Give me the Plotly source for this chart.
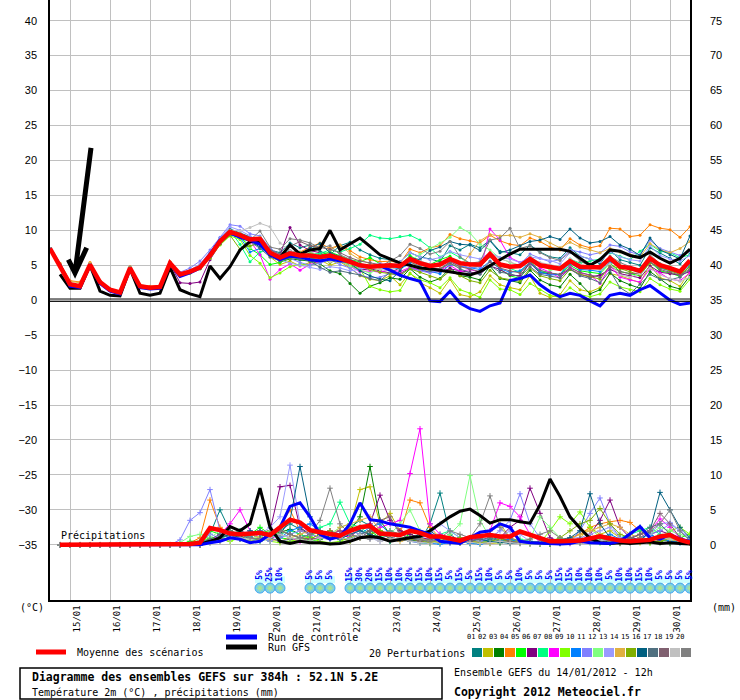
import plotly.graph_objects as go

# time axis: GEFS run 14/01/2012 12h, one point every 6h up to 384h
HOURS = list(range(0, 385, 6))
DAY_LABELS = ["15/01", "16/01", "17/01", "18/01", "19/01", "20/01", "21/01", "22/01",
              "23/01", "24/01", "25/01", "26/01", "27/01", "28/01", "29/01", "30/01"]
DAY_HOURS = [12 + 24 * i for i in range(len(DAY_LABELS))]

PERT_COLORS = ["#008080", "#c0c000", "#008000", "#ff8000", "#00ff00", "#800080", "#00ff80",
               "#ff00ff", "#80ff00", "#0080ff", "#8080ff", "#80ff80", "#9a9aff", "#e0b040",
               "#80b000", "#006080", "#507080", "#806070", "#c0c0c0", "#808080"]

# 2m temperature (degC), 0h..384h
MEAN_TEMP = [7.4, 5.0, 2.3, 2.0, 5.1, 2.6, 1.5, 1.1, 4.6, 2.0, 1.8, 1.9, 5.3, 3.7, 4.1, 4.7,
             6.4, 8.4, 9.8, 9.3, 8.7, 8.8, 6.8, 6.1, 6.7, 6.4, 6.4, 6.2, 6.4, 6.0, 5.5, 5.0,
             4.8, 4.9, 5.0, 4.9, 5.9, 5.3, 4.9, 5.1, 5.9, 5.3, 5.1, 5.1, 6.6, 5.1, 4.8, 4.9, 5.9,
             5.0, 4.8, 4.5, 5.6, 4.8, 4.7, 4.7, 6.0, 4.8, 4.6, 4.2, 6.0, 5.0, 4.6, 4.1, 5.7]
CTRL_TEMP = [7.4, 5.0, 2.0, 1.8, 5.0, 2.4, 1.3, 0.9, 4.5, 1.8, 1.6, 1.7, 5.2, 3.4, 3.9, 4.6,
             6.6, 8.6, 9.6, 9.0, 8.6, 8.0, 6.5, 5.8, 6.3, 6.2, 5.8, 5.6, 5.9, 5.6, 5.6, 5.0,
             4.8, 4.9, 4.3, 3.6, 3.1, 2.7, -0.1, -0.2, 1.3, -0.4, -1.2, -1.6, -0.8, -0.4, 2.8, 3.1,
             3.6, 2.2, 1.2, 0.5, 1.0, 0.7, -0.1, -0.8, 0.7, 1.0, 0.7, 1.5, 2.1, 1.0, 0.0, -0.6, -0.4]
# GFS run starts at 6h
GFS_TEMP = [3.7, 1.7, 1.7, 5.0, 1.3, 0.7, 0.6, 4.5, 1.0, 0.7, 1.0, 4.7, 1.5, 0.9, 0.5,
            4.9, 3.1, 4.8, 7.2, 8.4, 8.4, 6.5, 6.1, 7.9, 6.6, 7.2, 7.4, 10.0, 7.2, 8.1, 8.9,
            7.7, 6.5, 5.9, 5.3, 5.0, 4.6, 4.5, 4.3, 4.1, 3.8, 3.6, 4.1, 5.0, 5.8, 6.6, 7.3, 7.3,
            7.3, 7.3, 7.3, 7.0, 6.0, 5.0, 5.8, 7.2, 7.0, 6.4, 6.1, 6.9, 6.0, 5.3, 6.0, 7.3]

T_P01 = [7.4, 5.1, 2.4, 2.1, 5.2, 2.7, 1.6, 1.2, 4.7, 2.1, 1.9, 2.0, 5.4, 3.6, 4.0, 4.8,
         6.8, 8.9, 10.2, 9.6, 9.0, 8.5, 7.2, 6.8, 8.2, 7.5, 7.9, 7.0, 6.5, 7.8, 8.3, 7.2,
         6.5, 6.0, 5.8, 5.5, 6.8, 6.2, 5.9, 5.5, 7.8, 7.2, 8.0, 7.5, 8.6, 7.0, 6.8, 6.5, 7.9,
         6.9, 6.2, 6.0, 7.5, 6.3, 5.9, 5.2, 7.2, 5.8, 5.4, 5.0, 7.5, 6.8, 6.0, 5.2, 6.6]
T_P02 = [7.4, 4.9, 2.2, 1.9, 5.0, 2.5, 1.4, 1.0, 4.5, 1.9, 1.7, 1.8, 5.2, 3.8, 4.2, 4.6,
         6.0, 8.0, 9.4, 9.5, 8.6, 8.2, 6.2, 5.1, 5.6, 4.9, 5.4, 5.8, 5.0, 5.5, 4.6, 3.5,
         3.0, 2.8, 3.5, 2.2, 3.9, 2.5, 1.8, 1.0, 3.0, 0.8, 0.5, 1.2, 3.5, 2.2, 1.8, 1.5, 3.5,
         1.0, 0.4, 0.8, 2.8, 1.5, 1.2, 1.8, 3.8, 3.5, 3.0, 2.5, 5.0, 3.2, 2.8, 2.0, 4.2]
T_P03 = [7.4, 5.0, 2.3, 2.1, 5.2, 2.5, 1.4, 1.1, 4.7, 2.0, 1.7, 1.9, 5.4, 3.5, 3.9, 4.5,
         6.2, 8.1, 9.5, 9.1, 8.4, 8.0, 6.6, 5.5, 5.9, 5.8, 5.6, 5.2, 4.2, 3.8, 2.4, 1.0,
         2.0, 2.5, 3.2, 3.0, 4.5, 3.3, 2.6, 3.1, 4.6, 3.5, 3.3, 2.9, 4.9, 3.1, 2.8, 2.5, 4.3,
         2.9, 2.2, 1.9, 3.7, 2.4, 0.9, 1.5, 3.9, 2.8, 2.2, 1.7, 4.1, 3.0, 2.0, 1.6, 3.5]
T_P04 = [7.4, 5.3, 2.8, 2.6, 5.4, 2.8, 1.6, 1.3, 4.8, 2.2, 2.0, 2.1, 5.5, 3.9, 4.3, 5.0,
         6.6, 8.5, 9.9, 9.4, 8.8, 8.9, 7.0, 6.4, 7.0, 6.9, 7.6, 8.2, 7.4, 7.9, 7.1, 6.2,
         5.8, 5.5, 5.6, 5.3, 7.3, 6.8, 7.5, 7.8, 9.4, 8.8, 8.5, 8.2, 9.3, 8.5, 8.0, 7.8, 8.9,
         8.4, 7.6, 7.2, 8.8, 7.9, 7.5, 7.8, 10.3, 10.2, 9.1, 9.3, 10.8, 10.3, 10.1, 9.0, 10.5]
T_P05 = [7.4, 5.0, 2.4, 2.0, 5.1, 2.7, 1.6, 1.2, 4.6, 2.1, 1.9, 1.9, 5.3, 3.8, 4.2, 4.7,
         6.3, 8.2, 9.6, 9.2, 7.4, 6.5, 5.1, 5.4, 6.1, 6.0, 6.8, 6.5, 6.9, 6.4, 5.8, 5.5,
         6.1, 5.2, 4.8, 5.0, 6.4, 5.5, 5.1, 5.8, 6.3, 4.9, 4.6, 4.9, 6.5, 4.4, 3.5, 3.1, 5.6,
         4.0, 3.9, 3.6, 5.0, 4.2, 4.0, 3.8, 5.3, 4.1, 3.8, 3.5, 5.5, 4.2, 3.9, 3.4, 4.9]
T_P06 = [7.4, 5.0, 2.2, 1.9, 5.0, 2.5, 1.4, 1.0, 4.5, 1.9, 1.7, 1.8, 5.2, 2.5, 2.4, 2.6,
         5.8, 8.0, 9.3, 9.4, 8.3, 8.7, 7.3, 6.5, 10.4, 7.9, 7.1, 6.8, 5.9, 6.2, 5.0, 4.3,
         4.5, 4.2, 3.9, 3.8, 4.6, 4.3, 4.0, 4.1, 4.5, 4.2, 4.0, 3.8, 4.9, 4.4, 3.6, 3.5, 5.3,
         3.9, 3.8, 3.6, 4.4, 3.7, 3.3, 3.6, 4.4, 3.8, 3.5, 3.2, 4.9, 4.0, 3.8, 3.6, 4.1]
T_P07 = [7.4, 5.1, 2.3, 2.0, 5.1, 2.6, 1.5, 1.1, 4.6, 2.0, 1.8, 1.9, 5.4, 3.7, 4.2, 4.8,
         6.5, 8.6, 10.0, 8.0, 5.5, 6.9, 7.3, 6.2, 6.4, 6.8, 6.5, 6.7, 7.2, 6.9, 7.4, 8.0,
         9.3, 8.9, 8.8, 9.1, 9.3, 8.6, 7.5, 6.2, 6.9, 6.1, 5.2, 4.8, 6.2, 5.1, 4.6, 4.0, 5.5,
         4.2, 3.9, 3.6, 5.9, 5.3, 5.6, 5.9, 6.8, 6.3, 5.8, 7.0, 8.0, 7.0, 6.8, 6.1, 6.5]
T_P08 = [7.4, 5.0, 2.3, 2.0, 5.1, 2.6, 1.5, 1.1, 4.6, 2.0, 1.8, 1.9, 5.3, 3.6, 4.0, 4.6,
         6.3, 8.4, 9.7, 9.2, 8.5, 6.5, 3.0, 4.4, 5.2, 4.3, 5.1, 5.5, 5.9, 5.6, 4.8, 4.1,
         4.2, 4.0, 4.4, 4.1, 4.7, 4.3, 4.5, 4.3, 5.0, 4.1, 4.4, 4.0, 10.2, 8.6, 6.1, 5.4, 6.0,
         4.6, 4.0, 3.2, 4.8, 3.9, 3.6, 2.4, 4.9, 3.3, 2.9, 2.6, 4.5, 3.9, 3.0, 2.8, 3.9]
T_P09 = [7.4, 4.9, 2.2, 1.9, 5.0, 2.5, 1.4, 1.0, 4.5, 1.9, 1.7, 1.8, 5.2, 3.5, 3.9, 4.5,
         6.0, 7.9, 9.2, 8.7, 6.4, 5.3, 3.2, 3.9, 4.8, 5.2, 5.0, 5.4, 6.5, 5.6, 5.1, 4.5,
         2.0, 1.5, 1.2, 1.4, 3.8, 2.9, 2.5, 1.8, 3.2, 1.5, 1.0, 0.4, 2.9, 1.6, 1.5, 0.8, 2.4,
         1.5, 0.7, 0.4, 1.8, 0.8, 0.5, 0.9, 2.6, 1.9, 1.5, 1.2, 3.1, 2.2, 1.6, 1.3, 3.0]
T_P10 = [7.4, 5.0, 2.3, 2.0, 5.1, 2.6, 1.5, 1.1, 4.6, 2.0, 1.8, 1.9, 5.3, 3.7, 4.1, 4.6,
         6.4, 8.3, 9.6, 9.0, 6.9, 7.4, 6.8, 5.8, 6.3, 5.9, 6.0, 5.8, 6.3, 5.7, 5.2, 4.7,
         4.9, 5.0, 4.7, 4.5, 5.2, 4.4, 4.1, 3.8, 5.1, 4.9, 4.6, 4.4, 5.6, 4.5, 4.0, 4.2, 5.4,
         4.0, 3.6, 3.7, 5.3, 4.4, 4.3, 4.1, 5.5, 4.8, 4.4, 4.0, 5.4, 4.6, 4.2, 3.9, 5.0]
T_P11 = [7.4, 5.1, 2.4, 2.1, 5.2, 2.7, 1.6, 1.2, 4.7, 2.1, 1.9, 2.0, 5.4, 4.0, 4.6, 5.6,
         7.2, 9.0, 10.8, 10.6, 9.5, 9.2, 7.5, 6.4, 6.0, 5.4, 5.0, 5.3, 5.8, 5.1, 4.6, 3.6,
         3.2, 3.3, 3.8, 3.5, 4.6, 4.2, 3.9, 4.3, 5.5, 5.0, 4.6, 4.8, 6.4, 5.2, 4.9, 5.1, 6.6,
         6.0, 5.5, 5.8, 7.2, 6.9, 6.5, 6.8, 7.9, 7.7, 6.9, 6.5, 8.6, 7.4, 6.9, 6.4, 7.0]
T_P12 = [7.4, 5.0, 2.3, 2.0, 5.1, 2.6, 1.5, 1.1, 4.6, 2.0, 1.8, 1.9, 5.3, 3.8, 4.2, 4.9,
         6.6, 8.5, 9.8, 9.4, 7.5, 9.0, 6.3, 5.9, 6.6, 6.4, 6.5, 6.1, 6.9, 5.6, 4.9, 4.3,
         3.9, 4.5, 5.2, 4.9, 5.7, 6.6, 7.4, 8.2, 9.0, 10.4, 9.6, 8.0, 7.2, 6.0, 5.4, 5.0, 6.3,
         5.2, 4.3, 4.5, 5.8, 4.9, 4.6, 4.4, 6.1, 5.0, 4.7, 4.3, 5.9, 5.2, 4.8, 4.0, 5.6]
T_P13 = [7.4, 5.0, 2.3, 2.0, 5.1, 2.6, 1.5, 1.1, 4.6, 2.0, 1.8, 1.9, 5.3, 3.8, 4.3, 5.2,
         6.9, 8.8, 10.5, 10.0, 9.2, 8.4, 6.9, 5.8, 5.3, 5.0, 4.7, 4.4, 4.8, 4.6, 4.2, 4.5,
         4.7, 5.3, 4.9, 5.5, 6.8, 6.2, 5.8, 6.1, 7.0, 6.5, 6.2, 5.9, 6.8, 6.1, 5.9, 5.4, 6.2,
         6.0, 5.7, 5.2, 6.8, 6.3, 5.9, 5.5, 6.9, 6.2, 5.8, 5.6, 7.8, 6.4, 5.9, 5.6, 6.4]
T_P14 = [7.4, 5.2, 2.7, 2.5, 5.3, 2.7, 1.6, 1.2, 4.7, 2.1, 1.9, 2.0, 5.4, 3.7, 4.1, 4.7,
         6.5, 8.4, 9.7, 9.2, 8.6, 8.3, 6.4, 5.9, 6.4, 6.6, 7.2, 7.8, 7.2, 7.9, 6.7, 5.8,
         5.2, 5.0, 4.6, 4.8, 5.6, 4.5, 4.2, 4.5, 5.2, 4.8, 6.6, 8.5, 9.4, 9.2, 9.3, 9.0, 9.5,
         9.0, 8.2, 7.5, 8.3, 7.6, 7.2, 6.8, 7.4, 6.9, 6.5, 6.2, 8.1, 7.2, 6.8, 7.4, 8.4]
T_P15 = [7.4, 5.0, 2.3, 2.0, 5.1, 2.6, 1.5, 1.1, 4.6, 2.0, 1.8, 1.9, 5.3, 3.6, 4.0, 4.5,
         6.1, 8.0, 9.3, 7.3, 7.8, 8.1, 6.5, 5.7, 6.0, 6.3, 5.9, 6.1, 5.4, 5.8, 5.2, 4.9,
         4.4, 4.0, 3.8, 3.6, 4.5, 4.0, 3.4, 3.0, 4.2, 3.5, 2.8, 2.5, 4.3, 3.2, 2.9, 2.7, 4.6,
         3.5, 3.1, 2.8, 4.4, 3.7, 3.4, 3.0, 5.0, 4.5, 4.1, 3.6, 5.4, 4.7, 4.2, 3.7, 4.8]
T_P16 = [7.4, 5.0, 2.3, 2.0, 5.1, 2.6, 1.5, 1.1, 4.6, 2.0, 1.8, 1.9, 5.3, 3.7, 4.1, 4.6,
         6.3, 8.3, 9.6, 9.0, 8.5, 7.6, 6.9, 6.3, 7.1, 6.6, 7.5, 8.1, 6.8, 6.2, 5.3, 4.2,
         3.5, 3.0, 2.8, 4.2, 6.1, 5.8, 7.1, 7.6, 8.4, 8.0, 7.9, 7.1, 8.5, 6.8, 7.2, 7.8, 8.4,
         8.6, 9.1, 8.7, 10.2, 8.9, 8.2, 8.4, 9.1, 7.9, 7.3, 6.4, 8.9, 7.2, 6.5, 5.9, 9.2]
T_P17 = [7.4, 5.0, 2.3, 2.0, 5.1, 2.6, 1.5, 1.1, 4.6, 2.0, 1.8, 1.9, 5.3, 3.6, 4.0, 4.6,
         6.2, 8.1, 9.5, 9.0, 8.4, 7.4, 6.2, 5.6, 6.1, 5.9, 5.6, 4.7, 4.0, 4.2, 3.9, 3.6,
         3.1, 2.8, 4.0, 4.6, 5.5, 4.8, 4.2, 4.4, 5.3, 4.5, 3.9, 3.7, 5.0, 4.0, 3.8, 3.3, 4.8,
         3.7, 3.4, 3.2, 4.5, 3.5, 3.1, 2.5, 4.2, 1.8, 0.9, 2.3, 3.7, 3.0, 2.9, 3.3, 4.4]
T_P18 = [7.4, 5.0, 2.3, 2.0, 5.1, 2.6, 1.5, 1.1, 4.6, 2.0, 1.8, 1.9, 5.3, 3.8, 4.2, 4.8,
         6.6, 8.6, 9.9, 9.5, 8.9, 8.6, 7.2, 6.6, 7.7, 8.4, 7.8, 7.5, 7.3, 6.8, 6.1, 5.6,
         5.4, 5.1, 4.8, 4.6, 5.8, 5.2, 4.6, 4.5, 5.5, 4.8, 4.4, 4.1, 5.5, 4.6, 4.2, 3.9, 5.4,
         4.3, 3.9, 3.7, 4.6, 4.0, 3.6, 3.3, 4.8, 4.1, 3.8, 3.9, 5.5, 4.4, 4.0, 3.6, 4.5]
T_P19 = [7.4, 5.0, 2.3, 2.0, 5.1, 2.6, 1.5, 1.1, 4.6, 2.0, 1.8, 1.9, 5.3, 3.7, 4.1, 4.7,
         6.4, 8.4, 10.0, 9.9, 10.4, 11.0, 10.5, 8.2, 7.1, 6.6, 7.0, 6.2, 5.5, 5.9, 5.2, 4.8,
         4.6, 4.4, 4.2, 5.1, 6.0, 5.6, 5.2, 5.0, 5.8, 5.4, 5.0, 5.3, 6.8, 5.9, 5.5, 4.9, 6.0,
         5.4, 5.1, 4.8, 5.9, 5.1, 4.8, 4.4, 5.2, 3.6, 3.3, 3.8, 4.6, 3.6, 3.1, 2.7, 3.3]
T_P20 = [7.4, 5.0, 2.3, 2.0, 5.1, 2.6, 1.5, 1.1, 4.6, 2.0, 1.8, 1.9, 5.3, 3.7, 4.1, 4.6,
         6.3, 8.4, 9.7, 9.2, 8.6, 9.9, 7.6, 7.3, 8.8, 8.6, 8.2, 7.5, 7.8, 6.5, 5.8, 5.2,
         5.0, 4.8, 5.6, 6.4, 8.0, 7.4, 6.6, 7.0, 8.4, 6.2, 5.3, 5.5, 8.6, 8.9, 10.3, 7.4, 7.8,
         6.8, 6.1, 5.7, 6.9, 5.6, 4.9, 4.6, 6.3, 5.4, 4.8, 4.4, 6.5, 5.2, 4.6, 4.1, 5.3]

# 6h precipitation (mm), 6h..384h
MEAN_RAIN = [0, 0, 0, 0, 0, 0, 0, 0, 0, 0, 0, 0, 0, 0.1,
             0.3, 2.4, 2.1, 1.6, 1.5, 1.6, 1.7, 1.4, 2.6, 3.6, 3.2, 2.1, 1.8, 1.5, 1.3, 2.0, 2.5,
             2.7, 1.6, 1.5, 1.4, 2.0, 1.7, 1.2, 1.2, 0.9, 0.6, 1.1, 1.2, 1.4, 1.2, 1.2, 1.9, 1.4,
             0.9, 0.5, 0.5, 0.5, 0.6, 0.9, 1.2, 0.9, 0.6, 0.5, 0.6, 0.7, 1.2, 1.4, 0.7, 0.3]
CTRL_RAIN = [0, 0, 0, 0, 0, 0, 0, 0, 0, 0, 0, 0, 0, 0,
             0.0, 0.3, 0.5, 1.0, 0.8, 0.3, 0.5, 1.5, 2.5, 5.5, 6.0, 4.0, 1.5, 0.8, 1.2, 3.0, 6.0,
             3.6, 3.4, 3.0, 2.8, 2.5, 2.0, 1.5, 0.5, 0.3, 0.2, 1.0, 1.8, 2.0, 3.0, 2.5, 0.5, 0.3,
             0.2, 0.1, 0.1, 0.2, 0.5, 0.3, 0.2, 0.2, 0.5, 1.5, 2.6, 1.0, 0.8, 1.5, 0.8, 0.5]
GFS_RAIN = [0, 0, 0, 0, 0, 0, 0, 0, 0, 0, 0, 0, 0, 0,
            0.1, 0.5, 1.0, 2.6, 2.0, 3.0, 8.1, 2.5, 0.5, 0.2, 0.5, 0.3, 0.3, 0.1, 0.2, 0.5, 1.0,
            1.2, 1.0, 0.5, 0.8, 1.0, 1.2, 2.0, 3.0, 4.0, 4.8, 5.1, 4.2, 3.1, 3.6, 3.6, 3.3, 3.1,
            5.7, 9.4, 6.9, 4.0, 2.4, 0.9, 0.3, 0.2, 0.3, 0.2, 0.3, 0.4, 0.2, 0.3, 0.2, 0.1]

R_P01 = [0, 0, 0, 0, 0, 0, 0, 0, 0, 0, 0, 0, 0, 0.1,
         0.3, 1.5, 5.0, 2.0, 1.2, 1.0, 0.8, 1.5, 2.0, 3.0, 2.2, 1.5, 1.0, 0.8, 1.2, 2.5, 3.5,
         2.8, 2.0, 1.5, 1.0, 0.8, 0.5, 3.0, 7.4, 1.5, 0.5, 0.3, 0.5, 0.8, 1.0, 0.5, 0.3, 0.2,
         0.3, 0.5, 0.8, 1.0, 0.5, 0.8, 0.5, 0.3, 0.5, 1.5, 2.5, 1.5, 0.8, 0.5, 0.3, 0.5]
R_P02 = [0, 0, 0, 0, 0, 0, 0, 0, 0, 0, 0, 0, 0, 0.2,
         0.0, 0.5, 1.0, 0.8, 1.5, 1.2, 1.8, 2.0, 1.5, 1.0, 0.8, 1.2, 2.0, 1.5, 1.0, 2.5, 7.9,
         8.3, 3.0, 4.5, 2.0, 1.5, 1.0, 0.5, 0.8, 0.5, 0.3, 0.5, 1.0, 2.0, 3.0, 1.0, 0.5, 0.3,
         0.2, 0.1, 0.3, 0.5, 1.0, 2.5, 1.5, 2.0, 1.0, 0.5, 0.3, 0.5, 1.0, 0.8, 0.5, 0.3]
R_P03 = [0, 0, 0, 0, 0, 0, 0, 0, 0, 0, 0, 0, 0, 0.1,
         0.0, 0.8, 1.2, 2.0, 1.5, 1.0, 0.5, 1.0, 1.8, 2.2, 1.5, 1.0, 0.8, 1.2, 1.5, 2.0, 4.0,
         11.2, 3.5, 1.5, 1.0, 0.5, 0.8, 0.3, 0.5, 1.0, 0.5, 0.3, 0.2, 0.3, 0.5, 0.8, 0.3, 0.2,
         0.1, 0.1, 0.2, 0.5, 0.3, 0.5, 0.8, 0.3, 0.2, 0.5, 0.8, 0.5, 0.3, 0.2, 0.5, 0.3]
R_P04 = [0, 0, 0, 0, 0, 0, 0, 0, 0, 0, 0, 0, 0, 0.3,
         1.0, 6.4, 2.5, 1.5, 1.0, 2.0, 1.5, 1.0, 2.5, 5.0, 2.0, 1.5, 1.0, 0.8, 1.0, 1.5, 2.0,
         1.5, 1.0, 0.8, 1.5, 6.4, 6.0, 2.5, 1.0, 0.5, 0.8, 0.3, 0.5, 0.3, 0.5, 0.8, 0.5, 0.3,
         0.5, 0.3, 0.5, 1.0, 1.5, 2.5, 3.0, 3.3, 3.5, 3.2, 2.0, 1.0, 0.5, 0.8, 0.5, 0.3]
R_P05 = [0, 0, 0, 0, 0, 0, 0, 0, 0, 0, 0, 0, 0.1, 0.5,
         0.5, 2.0, 1.5, 1.0, 0.8, 1.5, 2.5, 1.5, 1.0, 0.8, 1.0, 0.5, 0.8, 1.5, 1.0, 0.8, 1.5,
         2.0, 1.0, 0.5, 0.8, 1.5, 1.0, 0.5, 0.3, 0.8, 0.5, 0.2, 0.3, 0.5, 1.0, 0.5, 0.3, 0.2,
         0.1, 0.2, 0.3, 0.5, 0.8, 0.5, 0.3, 0.2, 0.5, 0.8, 0.5, 0.3, 0.5, 0.8, 1.0, 1.5]
R_P06 = [0, 0, 0, 0, 0, 0, 0, 0, 0, 0, 0, 0, 0, 0,
         0.0, 0.5, 1.0, 1.5, 2.0, 1.5, 1.0, 2.0, 8.3, 8.5, 2.5, 1.5, 1.0, 2.0, 1.5, 1.0, 2.5,
         3.0, 7.1, 3.5, 2.0, 1.5, 1.0, 0.8, 0.5, 0.3, 0.5, 0.8, 1.0, 1.5, 1.0, 2.5, 3.5, 8.1,
         4.5, 1.0, 0.5, 0.3, 0.5, 1.5, 3.5, 6.4, 2.5, 1.0, 0.8, 1.5, 2.0, 1.5, 0.8, 0.3]
R_P07 = [0, 0, 0, 0, 0, 0, 0, 0, 0, 0, 0, 0, 0, 0.2,
         0.3, 1.0, 0.8, 1.5, 2.0, 1.0, 0.5, 1.0, 1.5, 2.0, 1.5, 1.0, 2.5, 3.0, 6.1, 3.0, 2.5,
         1.5, 1.0, 2.0, 1.5, 1.0, 0.8, 0.5, 1.5, 2.0, 1.0, 0.5, 0.3, 0.5, 0.3, 0.5, 0.8, 0.5,
         0.3, 0.5, 0.3, 0.2, 0.5, 0.3, 0.5, 0.8, 1.0, 1.5, 2.0, 2.5, 1.5, 1.0, 0.8, 0.5]
R_P08 = [0, 0, 0, 0, 0, 0, 0, 0, 0, 0, 0, 0, 0, 0,
         0.0, 0.5, 1.5, 3.0, 5.0, 2.0, 1.0, 0.8, 1.5, 1.0, 0.5, 0.8, 1.0, 1.5, 2.0, 1.0, 1.5,
         2.0, 2.5, 3.0, 3.5, 10.2, 16.6, 3.0, 1.5, 1.0, 0.8, 0.5, 1.0, 2.0, 6.0, 5.5, 4.0, 1.5,
         0.5, 0.3, 0.5, 0.2, 0.3, 0.5, 0.8, 0.5, 0.3, 0.5, 1.0, 2.0, 3.7, 2.5, 1.0, 0.5]
R_P09 = [0, 0, 0, 0, 0, 0, 0, 0, 0, 0, 0, 0, 0, 0.3,
         0.5, 1.0, 0.8, 0.5, 1.0, 1.5, 1.0, 0.5, 0.3, 0.5, 0.8, 1.0, 0.5, 0.3, 0.5, 1.0, 1.5,
         2.0, 1.5, 1.0, 0.8, 0.5, 0.3, 0.2, 0.5, 1.0, 0.8, 0.5, 0.3, 0.2, 0.3, 0.5, 0.2, 0.1,
         0.3, 2.0, 4.0, 3.0, 4.7, 2.5, 1.0, 0.5, 0.3, 0.5, 0.8, 0.5, 1.0, 2.0, 2.5, 1.5]
R_P10 = [0, 0, 0, 0, 0, 0, 0, 0, 0, 0, 0, 0, 0, 0,
         0.0, 0.3, 0.5, 1.0, 1.5, 1.0, 2.0, 1.5, 1.0, 2.0, 2.5, 3.0, 2.0, 1.5, 1.0, 0.8, 1.5,
         2.5, 3.0, 1.5, 1.0, 0.5, 0.3, 0.2, 0.1, 0.3, 0.5, 0.2, 0.1, 0.3, 0.5, 0.8, 0.3, 0.2,
         0.1, 0.2, 0.3, 0.5, 0.3, 0.5, 1.0, 1.5, 0.8, 0.5, 1.0, 1.5, 0.8, 0.5, 0.3, 0.5]
R_P11 = [0, 0, 0, 0, 0, 0, 0, 0, 0, 0, 0, 0, 0.7, 3.5,
         4.6, 7.9, 2.0, 1.0, 0.8, 1.5, 1.0, 0.5, 1.0, 1.5, 2.0, 1.5, 1.0, 0.8, 1.5, 2.0, 1.5,
         1.0, 0.8, 1.5, 1.0, 0.5, 0.3, 0.5, 1.0, 0.8, 0.5, 0.3, 0.5, 1.0, 2.0, 3.5, 7.3, 3.0,
         1.0, 0.5, 0.3, 0.5, 2.0, 4.5, 6.7, 3.0, 1.0, 0.5, 0.8, 1.5, 2.0, 3.0, 2.0, 0.8]
R_P12 = [0, 0, 0, 0, 0, 0, 0, 0, 0, 0, 0, 0, 0.3, 1.2,
         1.5, 1.0, 2.0, 1.5, 1.0, 0.8, 1.2, 2.0, 1.5, 1.0, 0.8, 1.5, 2.0, 1.5, 2.5, 3.0, 2.0,
         1.5, 1.0, 1.5, 3.0, 5.0, 2.0, 1.0, 0.5, 1.5, 3.0, 9.9, 3.5, 1.0, 0.5, 0.3, 0.5, 0.8,
         4.0, 2.5, 1.0, 0.5, 0.3, 0.5, 0.8, 1.0, 0.5, 0.3, 0.8, 1.5, 2.5, 2.0, 1.5, 1.0]
R_P13 = [0, 0, 0, 0, 0, 0, 0, 0, 0, 0, 0, 0, 0, 0.2,
         0.5, 1.5, 1.0, 0.8, 1.5, 2.0, 1.5, 2.5, 4.0, 11.4, 3.0, 1.5, 1.0, 0.8, 1.0, 1.5, 2.0,
         1.0, 0.5, 0.8, 1.5, 1.0, 0.8, 1.5, 3.0, 2.0, 1.0, 0.5, 0.3, 0.5, 1.0, 2.0, 1.5, 0.5,
         0.3, 0.2, 0.5, 1.0, 1.0, 1.5, 2.0, 2.5, 1.0, 0.5, 0.8, 1.5, 3.0, 3.2, 2.0, 1.0]
R_P14 = [0, 0, 0, 0, 0, 0, 0, 0, 0, 0, 0, 0, 0, 0,
         0.0, 0.3, 0.5, 0.8, 1.0, 1.5, 1.0, 0.8, 0.5, 1.0, 1.5, 2.0, 1.5, 1.0, 2.5, 3.0, 3.5,
         4.0, 2.0, 1.0, 0.5, 0.8, 1.0, 0.5, 0.3, 0.5, 0.8, 0.5, 0.3, 0.2, 0.3, 0.5, 0.3, 0.2,
         0.1, 0.3, 0.5, 0.8, 1.5, 2.0, 2.5, 3.0, 2.5, 1.5, 1.0, 0.5, 0.8, 1.0, 0.5, 0.3]
R_P15 = [0, 0, 0, 0, 0, 0, 0, 0, 0, 0, 0, 0, 0, 0.1,
         0.0, 0.5, 1.0, 1.5, 1.0, 0.5, 0.8, 1.5, 2.0, 1.5, 1.0, 0.8, 1.5, 2.0, 1.0, 0.5, 1.0,
         1.5, 2.0, 1.5, 1.0, 0.8, 0.5, 0.3, 0.5, 0.8, 1.0, 0.5, 0.3, 0.5, 0.8, 0.5, 0.3, 0.2,
         0.3, 0.5, 1.0, 2.0, 3.0, 3.5, 5.2, 3.0, 1.5, 1.0, 0.5, 0.3, 0.5, 0.8, 0.5, 0.3]
R_P16 = [0, 0, 0, 0, 0, 0, 0, 0, 0, 0, 0, 0, 0, 0,
         0.0, 0.5, 1.0, 1.5, 1.0, 2.0, 1.5, 1.0, 1.5, 3.5, 11.2, 4.0, 1.5, 1.0, 0.8, 1.5, 2.0,
         1.5, 1.0, 0.5, 0.8, 1.0, 1.5, 2.0, 1.0, 0.5, 0.3, 0.5, 0.8, 0.5, 0.3, 0.2, 0.3, 0.5,
         0.3, 0.2, 0.5, 1.0, 2.0, 7.3, 3.0, 1.0, 0.5, 0.3, 0.5, 2.0, 7.5, 5.0, 2.5, 1.0]
R_P17 = [0, 0, 0, 0, 0, 0, 0, 0, 0, 0, 0, 0, 0, 0.2,
         0.3, 0.8, 1.5, 1.0, 0.8, 1.5, 2.0, 1.0, 0.5, 0.8, 1.0, 1.5, 2.0, 1.5, 1.0, 0.8, 1.5,
         2.0, 1.5, 1.0, 0.8, 0.5, 1.0, 1.5, 1.0, 0.5, 0.3, 0.5, 0.8, 1.0, 0.5, 0.3, 0.2, 0.3,
         0.5, 0.3, 0.2, 0.5, 0.8, 1.0, 0.5, 0.3, 0.5, 0.8, 1.5, 2.5, 3.0, 1.5, 0.8, 0.5]
R_P18 = [0, 0, 0, 0, 0, 0, 0, 0, 0, 0, 0, 0, 0, 0,
         0.0, 0.5, 0.8, 1.0, 1.5, 1.0, 0.8, 1.5, 2.0, 1.5, 1.0, 0.8, 1.0, 1.5, 2.0, 1.5, 1.0,
         2.0, 3.5, 4.0, 1.5, 1.0, 0.5, 0.8, 1.0, 0.5, 0.3, 0.5, 1.0, 1.5, 1.0, 0.5, 0.3, 0.2,
         0.3, 0.5, 0.3, 0.5, 0.8, 1.0, 0.5, 0.3, 0.5, 1.0, 1.5, 2.0, 4.5, 3.0, 1.0, 0.5]
R_P19 = [0, 0, 0, 0, 0, 0, 0, 0, 0, 0, 0, 0, 0, 0,
         0.0, 0.3, 0.5, 0.8, 1.0, 0.8, 0.5, 1.0, 1.5, 1.0, 0.8, 0.5, 1.0, 1.5, 1.0, 0.8, 1.5,
         1.0, 0.5, 0.8, 1.0, 0.5, 0.3, 0.2, 0.5, 0.8, 0.5, 0.3, 0.2, 0.3, 0.5, 0.3, 0.2, 0.1,
         0.2, 0.3, 0.5, 0.3, 0.2, 0.3, 0.5, 0.8, 0.5, 0.3, 0.5, 0.8, 1.0, 0.8, 0.5, 0.3]
R_P20 = [0, 0, 0, 0, 0, 0, 0, 0, 0, 0, 0, 0, 0, 0,
         0.0, 0.5, 1.0, 2.0, 1.5, 1.0, 0.8, 1.5, 2.0, 1.5, 1.0, 1.5, 3.5, 8.1, 3.0, 1.5, 1.0,
         0.8, 1.5, 2.0, 1.5, 1.0, 0.8, 0.5, 1.0, 2.0, 1.5, 1.0, 3.0, 7.0, 2.5, 1.0, 0.5, 0.8,
         1.5, 2.0, 1.0, 0.5, 0.3, 0.5, 1.0, 0.5, 0.3, 0.5, 1.0, 2.0, 3.0, 5.0, 2.0, 0.5]

PERT_TEMP = [T_P01, T_P02, T_P03, T_P04, T_P05, T_P06, T_P07, T_P08, T_P09, T_P10,
             T_P11, T_P12, T_P13, T_P14, T_P15, T_P16, T_P17, T_P18, T_P19, T_P20]
PERT_RAIN = [R_P01, R_P02, R_P03, R_P04, R_P05, R_P06, R_P07, R_P08, R_P09, R_P10,
             R_P11, R_P12, R_P13, R_P14, R_P15, R_P16, R_P17, R_P18, R_P19, R_P20]

# snow probability row
SNOW_HOURS = [126, 132, 138, 156, 162, 168,
              180, 186, 192, 198, 204, 210, 216, 222, 228, 234, 240, 246, 252, 258, 264, 270,
              276, 282, 288, 294, 300, 306, 312, 318, 324, 330, 336, 342, 348, 354, 360, 366,
              372, 378, 384]
SNOW_PCT = [5, 25, 10, 5, 5, 5,
            15, 30, 20, 15, 10, 10, 20, 15, 10, 15, 5, 15, 5, 15, 10, 5,
            5, 10, 5, 5, 5, 15, 15, 10, 10, 10, 5, 10, 10, 15, 10, 5,
            5, 5, 5]

MONO = "DejaVu Sans Mono"
Y_TOP, Y_BOT = 42.96, -42.9
RAIN_SHIFT = 35  # right axis = left axis + 35 (0 mm sits on -35 degC)

fig = go.Figure()

# temperatures
for temp, col in zip(PERT_TEMP, PERT_COLORS):
    fig.add_trace(go.Scatter(x=HOURS, y=temp, mode="lines+markers",
                             line=dict(color=col, width=1), marker=dict(size=3, color=col)))
fig.add_trace(go.Scatter(x=HOURS[1:], y=GFS_TEMP, mode="lines", line=dict(color="black", width=3)))
fig.add_trace(go.Scatter(x=HOURS, y=CTRL_TEMP, mode="lines", line=dict(color="#0000ff", width=3)))
fig.add_trace(go.Scatter(x=HOURS, y=MEAN_TEMP, mode="lines", line=dict(color="#ff0000", width=4.5)))

# precipitation on the right axis
for rain, col in zip(PERT_RAIN, PERT_COLORS):
    fig.add_trace(go.Scatter(x=HOURS[1:], y=rain, mode="lines+markers", yaxis="y2",
                             line=dict(color=col, width=1),
                             marker=dict(symbol="cross-thin", size=4, line=dict(width=1, color=col))))
fig.add_trace(go.Scatter(x=HOURS[1:], y=GFS_RAIN, mode="lines", yaxis="y2",
                         line=dict(color="black", width=3)))
fig.add_trace(go.Scatter(x=HOURS[1:], y=CTRL_RAIN, mode="lines", yaxis="y2",
                         line=dict(color="#0000ff", width=3)))
fig.add_trace(go.Scatter(x=HOURS[1:], y=MEAN_RAIN, mode="lines", yaxis="y2",
                         line=dict(color="#ff0000", width=4.5)))

# snow icons
fig.add_trace(go.Scatter(x=SNOW_HOURS, y=[-41.2] * len(SNOW_HOURS), mode="markers",
                         marker=dict(symbol="circle", size=10, color="#74cdf2",
                                     line=dict(width=1, color="#48a8e8"))))
fig.add_trace(go.Scatter(x=SNOW_HOURS, y=[-41.2] * len(SNOW_HOURS), mode="markers",
                         marker=dict(symbol="asterisk-open", size=6,
                                     line=dict(width=1, color="#3a78d8"))))

annotations = []
for h, p in zip(SNOW_HOURS, SNOW_PCT):
    annotations.append(dict(x=h, y=-39.3, xref="x", yref="y", text=f"<b>{p}%</b>",
                            textangle=-90, showarrow=False,
                            font=dict(family=MONO, size=8, color="#0000ff")))

annotations.append(dict(x=5.4, y=-33.6, xref="x", yref="y", text="Précipitations",
                        xanchor="left", showarrow=False, font=dict(family=MONO, size=10)))


def px_x(x):
    return (x - 50) / 640


def px_y(y):
    return (600 - y) / 600


def note(x, y, text, size=10, anchor="left", bold=False):
    annotations.append(dict(x=px_x(x), y=px_y(y), xref="paper", yref="paper",
                            text=f"<b>{text}</b>" if bold else text, xanchor=anchor,
                            yanchor="middle", showarrow=False,
                            font=dict(family=MONO, size=size, color="black")))


note(32, 607, "(°C)", anchor="center")
note(724, 607, "(mm)", anchor="center")
note(266, 637, "Run de contrôle", size=10)
note(266, 647, "Run GFS", size=10)
note(75, 652, "Moyenne des scénarios", size=10)
note(467, 653, "20 Perturbations", size=10, anchor="right")
note(30, 677, "Diagramme des ensembles GEFS sur 384h : 52.1N 5.2E", size=11.5, bold=True)
note(30, 692, "Température 2m (°C) , précipitations (mm)", size=10)
note(452, 672, "Ensemble GEFS du 14/01/2012 - 12h", size=10)
note(452, 692, "Copyright 2012 Meteociel.fr", size=11.5, bold=True)

shapes = []
for i, col in enumerate(PERT_COLORS):
    x0 = 472 + 11 * i
    shapes.append(dict(type="rect", xref="paper", yref="paper", x0=px_x(x0), x1=px_x(x0 + 10),
                       y0=px_y(657), y1=px_y(648), fillcolor=col, line=dict(width=0)))
    annotations.append(dict(x=px_x(x0 + 5), y=px_y(643), xref="paper", yref="paper",
                            text=f"{i + 1:02d}", showarrow=False,
                            font=dict(family=MONO, size=7, color="black")))

for y, col in [(637, "#0000ff"), (647, "black")]:
    shapes.append(dict(type="line", xref="paper", yref="paper", x0=px_x(226), x1=px_x(257),
                       y0=px_y(y), y1=px_y(y), line=dict(color=col, width=5)))
shapes.append(dict(type="line", xref="paper", yref="paper", x0=px_x(36), x1=px_x(66),
                   y0=px_y(652), y1=px_y(652), line=dict(color="#ff0000", width=5)))
shapes.append(dict(type="rect", xref="paper", yref="paper", x0=px_x(20), x1=px_x(442),
                   y0=px_y(699), y1=px_y(668), line=dict(color="black", width=1.5)))

# light band behind the snow labels
for a, b in [(126, 138), (156, 168), (180, 384)]:
    shapes.append(dict(type="rect", xref="x", yref="y", x0=a - 3, x1=b + 3, y0=-40.5, y1=-39.5,
                       fillcolor="#ccffff", line=dict(width=0), layer="below"))

# double zero line
for y in (0.17, -0.17):
    shapes.append(dict(type="line", xref="paper", yref="y", x0=0, x1=1, y0=y, y1=y,
                       line=dict(color="black", width=1)))

# hand-drawn arrow
shapes.append(dict(type="path", xref="x", yref="y",
                   path="M 24.6 21.8 L 15.0 3.9 M 11.0 5.8 L 15.0 3.9 L 22.0 7.5",
                   line=dict(color="black", width=5)))

fig.update_layout(
    width=740, height=700,
    margin=dict(l=50, r=50, t=0, b=100),
    plot_bgcolor="white", paper_bgcolor="white",
    showlegend=False, hovermode=False,
    font=dict(family=MONO, size=10, color="black"),
    xaxis=dict(range=[0, 384], tickvals=DAY_HOURS, ticktext=DAY_LABELS, tickangle=-90,
               ticklabelshift=7, showgrid=True, gridcolor="#c0c0c0", gridwidth=1,
               showline=True, linecolor="black", linewidth=1.5, zeroline=False,
               ticks="", tickfont=dict(family=MONO, size=9)),
    yaxis=dict(range=[Y_BOT, Y_TOP], tickvals=list(range(-35, 41, 5)), showgrid=True,
               gridcolor="#c0c0c0", gridwidth=1, zeroline=False, showline=True,
               linecolor="black", linewidth=1.5, ticks="outside", ticklen=9,
               tickcolor="rgba(0,0,0,0)", tickfont=dict(family="Liberation Sans", size=11)),
    yaxis2=dict(range=[Y_BOT + RAIN_SHIFT, Y_TOP + RAIN_SHIFT], overlaying="y", side="right",
                tickvals=list(range(0, 76, 5)), showgrid=False, zeroline=False,
                showline=True, linecolor="black", linewidth=1.5, ticks="outside", ticklen=16,
                tickcolor="rgba(0,0,0,0)", tickfont=dict(family="Liberation Sans", size=11)),
    annotations=annotations,
    shapes=shapes,
)

fig.write_html("out.html", config={"displayModeBar": False},
               post_script="document.body.style.margin='0px';")
